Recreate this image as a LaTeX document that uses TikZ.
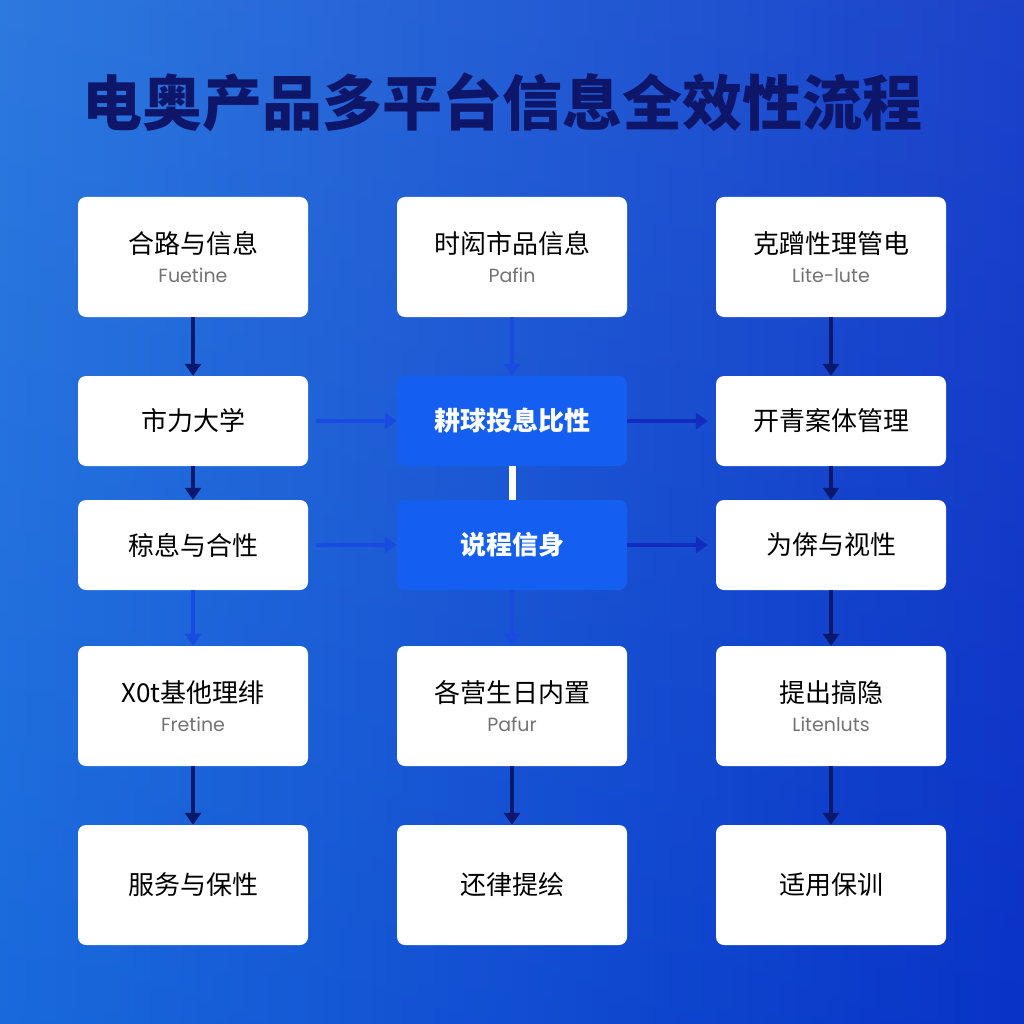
\documentclass[tikz,border=0pt]{standalone}
\usepackage{fontspec}
\setmainfont{Noto Sans CJK SC}
\newfontfamily\lat{Poppins}
\usetikzlibrary{arrows.meta}
\begin{document}
\begin{tikzpicture}[x=1pt,y=-1pt,
  box/.style={draw=none,fill=white,rounded corners=8pt,minimum width=230pt,align=center,font=\fontsize{26}{31}\selectfont},
  tall/.style={box,minimum height=120pt},
  short/.style={box,minimum height=90pt},
  hl/.style={short,fill={rgb,255:red,20;green,95;blue,240},text=white,font=\fontsize{26}{31}\selectfont\bfseries},
  dk/.style={-{Triangle[length=12pt,width=16pt]},line width=3.5pt,draw={rgb,255:red,10;green,25;blue,110}},
  lt/.style={-{Triangle[length=12pt,width=16pt]},line width=3.5pt,draw={rgb,255:red,25;green,75;blue,225}},
  rt/.style={lt,draw={rgb,255:red,18;green,45;blue,190}}]
\definecolor{bgA}{RGB}{30,120,240}
\definecolor{bgB}{RGB}{10,55,215}
\definecolor{ttl}{RGB}{14,22,105}
\fill[left color=bgA,right color=bgB] (0,0) rectangle (1024,1024);
\fill[top color=white,bottom color=bgB,opacity=0.08] (0,0) rectangle (1024,1024);
\useasboundingbox (0,0) rectangle (1024,1024);
% title
\node[text=ttl,font=\fontsize{60}{66}\selectfont\bfseries] (title) at (502,102) {电奥产品多平台信息全效性流程};
% column 1
\node[tall] (a1) at (193,257) {合路与信息\\[-2pt]{\lat\fontsize{19}{22}\selectfont\color{black!55}Fuetine}};
\node[short] (a2) at (193,421) {市力大学};
\node[short] (a3) at (193,545) {稤息与合性};
\node[tall] (a4) at (193,706) {X0t基他理绯\\[-2pt]{\lat\fontsize{19}{22}\selectfont\color{black!55}Fretine}};
\node[tall] (a5) at (193,885) {服务与保性};
% column 2
\node[tall] (b1) at (512,257) {时闳市品信息\\[-2pt]{\lat\fontsize{19}{22}\selectfont\color{black!55}Pafin}};
\node[hl] (b2) at (512,421) {耕球投息比性};
\node[hl] (b3) at (512,545) {说程信身};
\node[tall] (b4) at (512,706) {各营生日内置\\[-2pt]{\lat\fontsize{19}{22}\selectfont\color{black!55}Pafur}};
\node[tall] (b5) at (512,885) {还律提绘};
% column 3
\node[tall] (c1) at (831,257) {克蹭性理管电\\[-2pt]{\lat\fontsize{19}{22}\selectfont\color{black!55}Lite-lute}};
\node[short] (c2) at (831,421) {开青案体管理};
\node[short] (c3) at (831,545) {为倴与视性};
\node[tall] (c4) at (831,706) {提出搞隐\\[-2pt]{\lat\fontsize{19}{22}\selectfont\color{black!55}Litenluts}};
\node[tall] (c5) at (831,885) {适用保训};
% vertical arrows
\draw[dk] (a1) -- (a2);
\draw[dk] (a2) -- (a3);
\draw[lt] (a3) -- (a4);
\draw[dk] (a4) -- (a5);
\draw[lt] (b1) -- (b2);
\draw[line width=7pt,white] (b2) -- (b3);
\draw[lt] (b3) -- (b4);
\draw[dk] (b4) -- (b5);
\draw[dk] (c1) -- (c2);
\draw[dk] (c2) -- (c3);
\draw[dk] (c3) -- (c4);
\draw[dk] (c4) -- (c5);
% horizontal arrows
\draw[lt,shorten <=8pt] (a2) -- (b2);
\draw[rt,shorten >=8pt] (b2) -- (c2);
\draw[lt,shorten <=8pt] (a3) -- (b3);
\draw[rt,shorten >=8pt] (b3) -- (c3);
\end{tikzpicture}
\end{document}
